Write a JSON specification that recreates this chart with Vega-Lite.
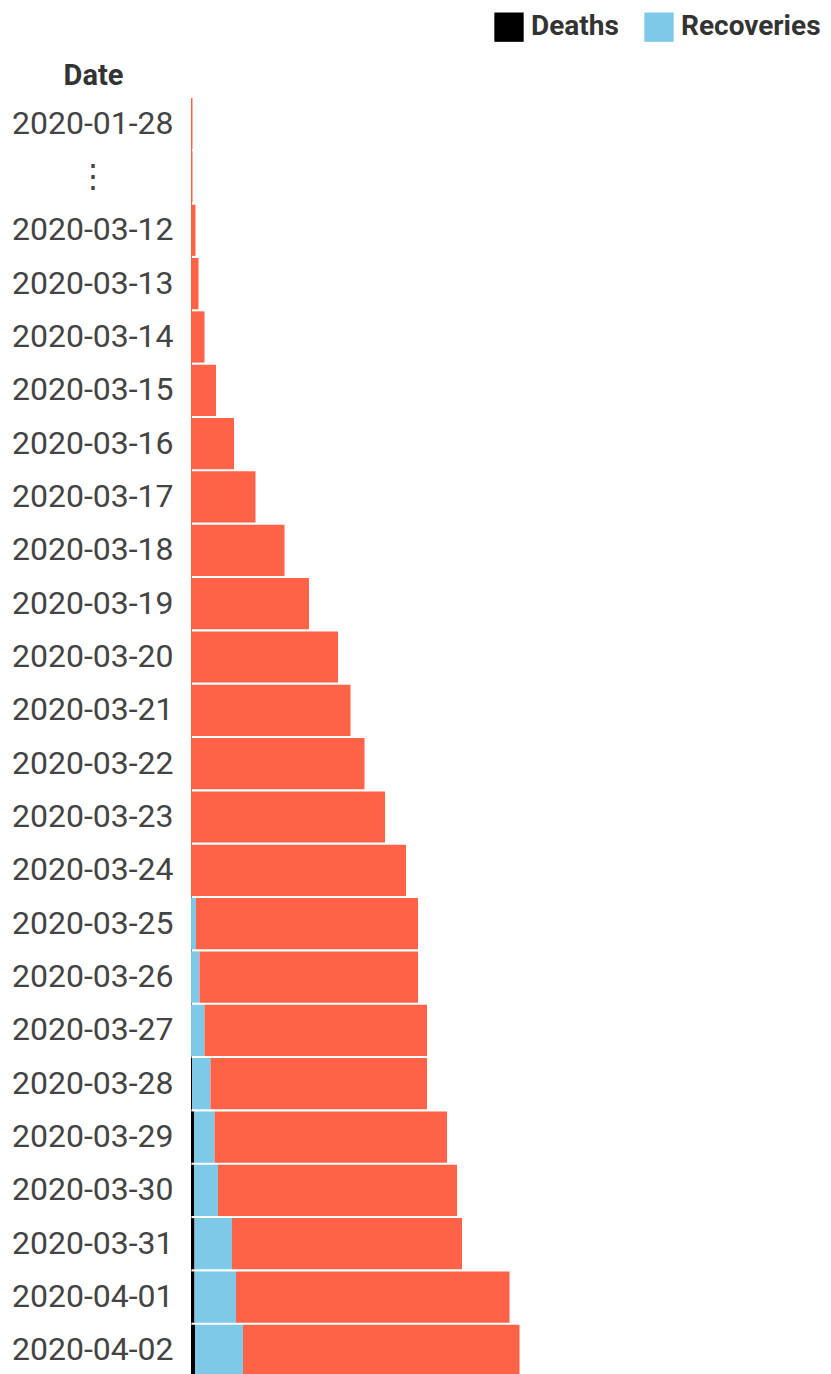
{
  "$schema": "https://vega.github.io/schema/vega-lite/v6.json",
  "autosize": "none",
  "padding": {"left": 191, "top": 98, "right": 0, "bottom": 0},
  "width": 640,
  "height": 1278,
  "background": "white",
  "config": {"view": {"stroke": null}, "font": "Roboto"},
  "data": {"values": [
    {"date": "2020-01-28", "type": "Active", "count": 15},
    {"date": "⋮", "type": "Active", "count": 15},
    {"date": "2020-03-12", "type": "Active", "count": 45},
    {"date": "2020-03-13", "type": "Active", "count": 75},
    {"date": "2020-03-14", "type": "Active", "count": 135},
    {"date": "2020-03-15", "type": "Active", "count": 250},
    {"date": "2020-03-16", "type": "Active", "count": 430},
    {"date": "2020-03-17", "type": "Active", "count": 645},
    {"date": "2020-03-18", "type": "Active", "count": 935},
    {"date": "2020-03-19", "type": "Active", "count": 1180},
    {"date": "2020-03-20", "type": "Active", "count": 1470},
    {"date": "2020-03-21", "type": "Active", "count": 1595},
    {"date": "2020-03-22", "type": "Active", "count": 1735},
    {"date": "2020-03-23", "type": "Active", "count": 1940},
    {"date": "2020-03-24", "type": "Active", "count": 2150},
    {"date": "2020-03-25", "type": "Recoveries", "count": 50},
    {"date": "2020-03-25", "type": "Active", "count": 2220},
    {"date": "2020-03-26", "type": "Recoveries", "count": 85},
    {"date": "2020-03-26", "type": "Active", "count": 2185},
    {"date": "2020-03-27", "type": "Recoveries", "count": 135},
    {"date": "2020-03-27", "type": "Active", "count": 2225},
    {"date": "2020-03-28", "type": "Deaths", "count": 10},
    {"date": "2020-03-28", "type": "Recoveries", "count": 185},
    {"date": "2020-03-28", "type": "Active", "count": 2165},
    {"date": "2020-03-29", "type": "Deaths", "count": 30},
    {"date": "2020-03-29", "type": "Recoveries", "count": 205},
    {"date": "2020-03-29", "type": "Active", "count": 2325},
    {"date": "2020-03-30", "type": "Deaths", "count": 30},
    {"date": "2020-03-30", "type": "Recoveries", "count": 240},
    {"date": "2020-03-30", "type": "Active", "count": 2390},
    {"date": "2020-03-31", "type": "Deaths", "count": 35},
    {"date": "2020-03-31", "type": "Recoveries", "count": 375},
    {"date": "2020-03-31", "type": "Active", "count": 2300},
    {"date": "2020-04-01", "type": "Deaths", "count": 35},
    {"date": "2020-04-01", "type": "Recoveries", "count": 415},
    {"date": "2020-04-01", "type": "Active", "count": 2735},
    {"date": "2020-04-02", "type": "Deaths", "count": 40},
    {"date": "2020-04-02", "type": "Recoveries", "count": 480},
    {"date": "2020-04-02", "type": "Active", "count": 2765}
  ]},
  "transform": [
    {"calculate": "indexof(['Deaths','Recoveries','Active'], datum.type)", "as": "stackOrder"}
  ],
  "mark": {"type": "bar"},
  "encoding": {
    "y": {
      "field": "date", "type": "ordinal", "sort": null,
      "scale": {"paddingInner": 0.04, "paddingOuter": 0},
      "axis": {
        "title": "Date", "titleAngle": 0, "titleAlign": "center", "titleBaseline": "middle",
        "titleX": -98, "titleY": -23, "titleFont": "Roboto", "titleFontSize": 29,
        "titleFontWeight": "bold", "titleColor": "#333",
        "labelFont": "Roboto", "labelFontSize": 32, "labelColor": "#444",
        "labelPadding": {"expr": "datum.value == '⋮' ? 83 : 18"},
        "ticks": false, "domainColor": "#888", "domainWidth": 1
      }
    },
    "x": {
      "field": "count", "type": "quantitative", "stack": "zero",
      "scale": {"domain": [0, 6400], "nice": false},
      "axis": null
    },
    "order": {"field": "stackOrder", "type": "quantitative"},
    "color": {
      "field": "type", "type": "nominal",
      "scale": {"domain": ["Deaths", "Recoveries", "Active"], "range": ["#000000", "#7ec8e8", "#ff6347"]},
      "legend": {
        "values": ["Deaths", "Recoveries"], "title": null, "orient": "none",
        "direction": "horizontal", "legendX": 303, "legendY": -86,
        "symbolType": "square", "symbolSize": 860, "symbolStrokeWidth": 0, "symbolOpacity": 1,
        "labelFont": "Roboto", "labelFontSize": 28, "labelFontWeight": "bold", "labelColor": "#333",
        "labelOffset": 7, "columnPadding": 25
      }
    }
  }
}
